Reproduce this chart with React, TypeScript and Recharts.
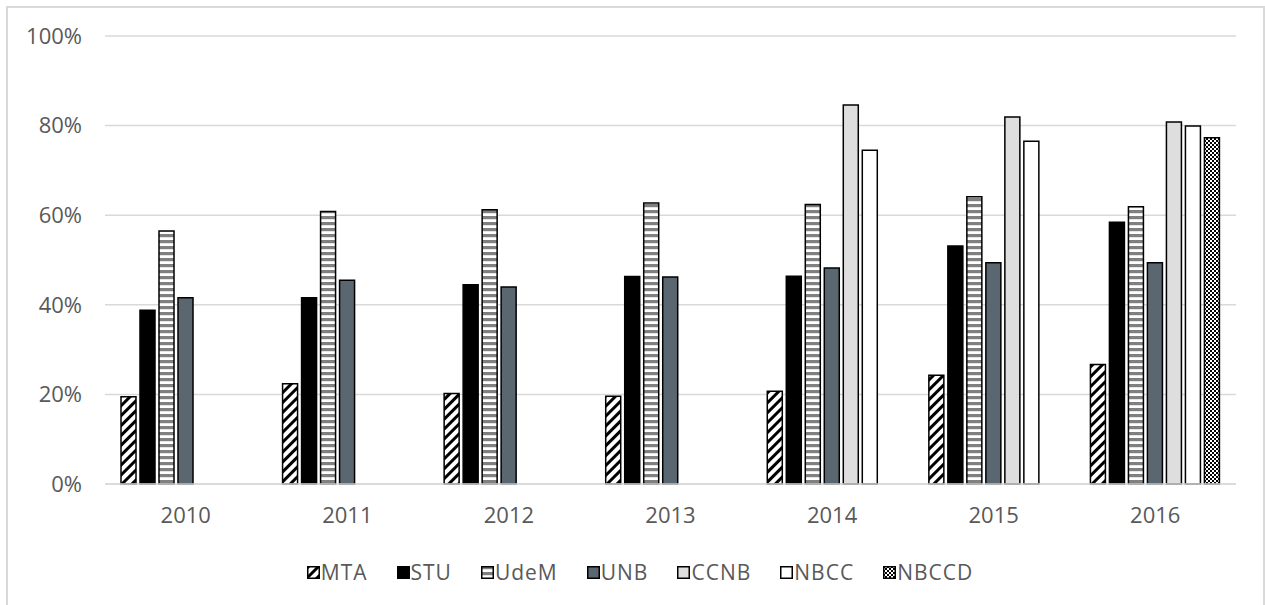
import { BarChart, Bar, XAxis, YAxis, CartesianGrid, Legend } from "recharts";

const years = ["2010", "2011", "2012", "2013", "2014", "2015", "2016"];
const mta = [19.5, 22.4, 20.2, 19.6, 20.7, 24.3, 26.7];
const stu = [38.8, 41.6, 44.5, 46.3, 46.4, 53.1, 58.4];
const udem = [56.5, 60.8, 61.2, 62.7, 62.4, 64.1, 61.9];
const unb = [41.6, 45.5, 44.0, 46.2, 48.2, 49.4, 49.4];
const ccnb = [null, null, null, null, 84.6, 81.9, 80.8];
const nbcc = [null, null, null, null, 74.5, 76.5, 79.9];
const nbccd = [null, null, null, null, null, null, 77.3];
const yTicks = [0, 20, 40, 60, 80, 100];

const series = [
  { key: "MTA", fill: "url(#pMTA)" },
  { key: "STU", fill: "#000000" },
  { key: "UdeM", fill: "url(#pUdeM)" },
  { key: "UNB", fill: "#5b6770" },
  { key: "CCNB", fill: "#dedede" },
  { key: "NBCC", fill: "#ffffff" },
  { key: "NBCCD", fill: "url(#pNBCCD)" },
];

const data = years.map((year, i) => ({
  year,
  MTA: mta[i],
  STU: stu[i],
  UdeM: udem[i],
  UNB: unb[i],
  CCNB: ccnb[i],
  NBCC: nbcc[i],
  NBCCD: nbccd[i],
}));

const font = "'Open Sans', sans-serif";
const textColor = "#595959";

const renderLegend = () => (
  <div
    style={{
      height: 30,
      display: "flex",
      justifyContent: "center",
      alignItems: "center",
      fontFamily: font,
      fontSize: 21,
      letterSpacing: 1,
      color: textColor,
      paddingLeft: 44,
    }}
  >
    {series.map((s, i) => (
      <div
        key={s.key}
        style={{ display: "flex", alignItems: "center", marginRight: i < series.length - 1 ? 29 : 0 }}
      >
        <svg width={13} height={13} style={{ marginRight: 1 }}>
          <rect x={0.75} y={0.75} width={11.5} height={11.5} fill={s.fill} stroke="#000" strokeWidth={1.5} />
        </svg>
        <span>{s.key}</span>
      </div>
    ))}
  </div>
);

export default function App() {
  return (
    <div
      style={{
        position: "absolute",
        left: 0,
        top: 0,
        width: 1265,
        height: 605,
        overflow: "hidden",
        background: "#fff",
      }}
    >
      <div
        style={{
          position: "absolute",
          left: 6,
          top: 6,
          width: 1255,
          height: 700,
          border: "2px solid #d9d9d9",
        }}
      />
      <div style={{ position: "absolute", left: 0, top: 0 }}>
        <BarChart
          width={1265}
          height={605}
          data={data}
          margin={{ top: 36, right: 29, left: 0, bottom: 18 }}
          barSize={15}
          barGap={4}
        >
          <defs>
            <pattern id="pMTA" width="7" height="7" patternUnits="userSpaceOnUse" patternTransform="rotate(45)">
              <rect width="7" height="7" fill="#fff" />
              <rect width="3" height="7" fill="#000" />
            </pattern>
            <pattern id="pUdeM" width="6" height="6" patternUnits="userSpaceOnUse">
              <rect width="6" height="6" fill="#fff" />
              <rect width="6" height="3.2" fill="#808080" />
            </pattern>
            <pattern id="pNBCCD" width="4" height="4" patternUnits="userSpaceOnUse">
              <rect width="4" height="4" fill="#fff" />
              <rect width="2" height="2" fill="#000" />
              <rect x="2" y="2" width="2" height="2" fill="#000" />
            </pattern>
          </defs>
          <CartesianGrid vertical={false} stroke="#d9d9d9" strokeWidth={1.5} />
          <XAxis
            dataKey="year"
            height={73}
            tickLine={false}
            tickSize={0}
            tickMargin={23}
            axisLine={{ stroke: "#d9d9d9", strokeWidth: 1.5 }}
            tick={{ fill: textColor, fontSize: 22, fontFamily: font }}
          />
          <YAxis
            domain={[0, 100]}
            ticks={yTicks}
            width={105}
            axisLine={false}
            tickLine={false}
            tickSize={0}
            tickMargin={23}
            tickFormatter={(v) => `${v}%`}
            tick={{ fill: textColor, fontSize: 22, fontFamily: font }}
          />
          <Legend verticalAlign="bottom" content={renderLegend} />
          {series.map((s) => (
            <Bar
              key={s.key}
              dataKey={s.key}
              fill={s.fill}
              stroke="#000"
              strokeWidth={1.5}
              isAnimationActive={false}
            />
          ))}
        </BarChart>
      </div>
    </div>
  );
}
